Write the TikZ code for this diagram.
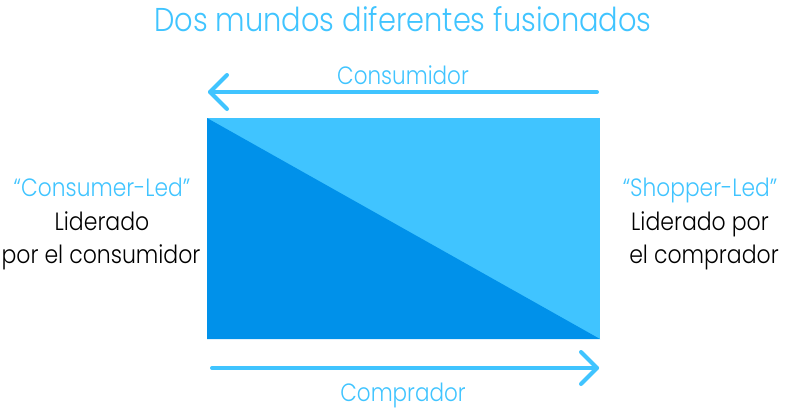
\documentclass[tikz,border=0pt]{standalone}
\usepackage{fontspec}
\usepackage{graphicx}
\setmainfont{Poppins}[UprightFont=* Light]
\definecolor{lightblue}{HTML}{40C4FF}
\definecolor{darkblue}{HTML}{0091EA}
\newcommand{\sqz}[2]{\scalebox{#1}[1]{#2}}
\begin{document}
\begin{tikzpicture}[x=1pt,y=-1pt,
  arrowline/.style={draw=lightblue,line width=4pt,line cap=round,line join=round},
  title/.style={text=lightblue,font=\fontsize{33}{38}\selectfont,anchor=base,inner sep=0pt},
  bluelabel/.style={text=lightblue,font=\fontsize{25}{30}\selectfont,anchor=base,inner sep=0pt},
  blacklabel/.style={text=black,font=\fontsize{25}{30}\selectfont,anchor=base,inner sep=0pt}]
\useasboundingbox (0,0) rectangle (787,410);
% rectangle
\fill[lightblue] (207,118) rectangle (600,339);
\fill[darkblue] (207,118) -- (600,339) -- (207,339) -- cycle;
% title
\node[title] (title) at (403,31) {\sqz{0.875}{Dos mundos diferentes fusionados}};
% top arrow
\coordinate (ts) at (597,92);
\coordinate (te) at (210,92);
\draw[arrowline] (ts) -- (te);
\draw[arrowline] ([shift={(17,-17)}]te) -- (te) -- ([shift={(17,17)}]te);
\node[bluelabel] (cons) at (403,84) {\sqz{0.86}{Consumidor}};
% bottom arrow
\coordinate (bs) at (212,368);
\coordinate (be) at (597,368);
\draw[arrowline] (bs) -- (be);
\draw[arrowline] ([shift={(-16,-16)}]be) -- (be) -- ([shift={(-16,16)}]be);
\node[bluelabel] (comp) at (403,401) {\sqz{0.86}{Comprador}};
% left labels
\node[bluelabel] (cl) at (102,196) {\sqz{0.87}{“Consumer-Led”}};
\node[blacklabel] (l1) at (102,230) {\sqz{0.88}{Liderado}};
\node[blacklabel] (l2) at (101,263) {\sqz{0.88}{por el consumidor}};
% right labels
\node[bluelabel] (sl) at (700,196) {\sqz{0.87}{“Shopper-Led”}};
\node[blacklabel] (r1) at (700,230) {\sqz{0.88}{Liderado por}};
\node[blacklabel] (r2) at (704,263) {\sqz{0.88}{el comprador}};
\end{tikzpicture}
\end{document}
